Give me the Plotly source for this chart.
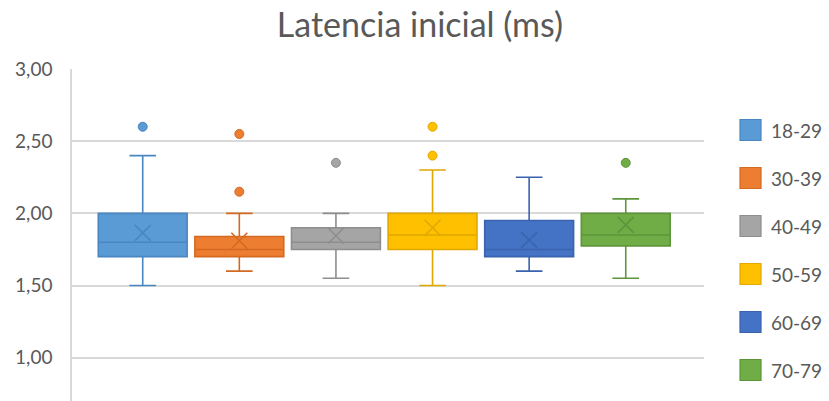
import plotly.graph_objects as go

# Age groups and their box statistics (ms)
groups = ["18-29", "30-39", "40-49", "50-59", "60-69", "70-79"]
lower_fence = [1.50, 1.60, 1.55, 1.50, 1.60, 1.55]
q1 = [1.70, 1.70, 1.75, 1.75, 1.70, 1.775]
median = [1.80, 1.75, 1.80, 1.85, 1.75, 1.85]
q3 = [2.00, 1.84, 1.90, 2.00, 1.95, 2.00]
upper_fence = [2.40, 2.00, 2.00, 2.30, 2.25, 2.10]
mean = [1.865, 1.81, 1.845, 1.90, 1.815, 1.92]
outliers = [[2.60], [2.55, 2.15], [2.35], [2.60, 2.40], [], [2.35]]

y_ticks = [1.0, 1.5, 2.0, 2.5, 3.0]
y_tick_text = ["1,00", "1,50", "2,00", "2,50", "3,00"]

fill_colors = ["#5B9BD5", "#ED7D31", "#A5A5A5", "#FFC000", "#4472C4", "#70AD47"]
line_colors = ["#4A86C2", "#D46A22", "#8E8E8E", "#E0A800", "#3A63AE", "#5E953A"]

FONT = "Lato"
TEXT = "#595959"
W, H = 829, 401
M_L, M_R, M_T, M_B = 72, 125, 69, 0

fig = go.Figure()

for i, g in enumerate(groups):
    fig.add_trace(go.Box(
        x=[i], q1=[q1[i]], median=[median[i]], q3=[q3[i]],
        lowerfence=[lower_fence[i]], upperfence=[upper_fence[i]],
        name=g, width=0.92, whiskerwidth=0.3, boxpoints=False,
        fillcolor=fill_colors[i],
        line=dict(color=line_colors[i], width=1.6),
        showlegend=False, hoverinfo="skip",
    ))
    # mean marker
    fig.add_trace(go.Scatter(
        x=[i], y=[mean[i]], mode="markers",
        marker=dict(symbol="x-thin-open", size=16, color=line_colors[i],
                    line=dict(color=line_colors[i], width=1.6)),
        showlegend=False, hoverinfo="skip",
    ))
    # outlier points
    if outliers[i]:
        fig.add_trace(go.Scatter(
            x=[i] * len(outliers[i]), y=outliers[i], mode="markers",
            marker=dict(symbol="circle", size=9, color=fill_colors[i],
                        line=dict(color=line_colors[i], width=1)),
            showlegend=False, hoverinfo="skip",
        ))

# Legend drawn with shapes + annotations (larger swatches than Plotly allows)
pw = W - M_L - M_R
ph = H - M_T - M_B


def px_x(px):
    return (px - M_L) / pw


def px_y(py):
    return (H - M_B - py) / ph


shapes = []
annotations = []
for i, g in enumerate(groups):
    cy = 130 + 48 * i
    shapes.append(dict(
        type="rect", xref="paper", yref="paper",
        x0=px_x(740), x1=px_x(761), y0=px_y(cy + 10.5), y1=px_y(cy - 10.5),
        fillcolor=fill_colors[i], line=dict(color=line_colors[i], width=1.2),
    ))
    annotations.append(dict(
        xref="paper", yref="paper", x=px_x(769), y=px_y(cy),
        xanchor="left", yanchor="middle", text=g, showarrow=False,
        font=dict(family=FONT, size=19, color=TEXT),
    ))

fig.update_layout(
    width=W, height=H,
    margin=dict(l=M_L, r=M_R, t=M_T, b=M_B),
    paper_bgcolor="white", plot_bgcolor="white",
    showlegend=False,
    title=dict(text="Latencia inicial (ms)", x=420 / W, xanchor="center",
               y=1 - 25 / H, yanchor="middle",
               font=dict(family=FONT, size=34, color=TEXT)),
    xaxis=dict(range=[-0.732, 5.81], showticklabels=False, showgrid=False,
               zeroline=False, showline=False),
    yaxis=dict(range=[0.70, 3.0], tickvals=y_ticks, ticktext=y_tick_text,
               showgrid=True, gridcolor="#D9D9D9", gridwidth=1.5,
               zeroline=False, showline=True, linecolor="#D9D9D9", linewidth=1.5,
               ticks="", ticklabelstandoff=14,
               tickfont=dict(family=FONT, size=19, color=TEXT)),
    shapes=shapes, annotations=annotations,
)

fig.write_html("out.html")
